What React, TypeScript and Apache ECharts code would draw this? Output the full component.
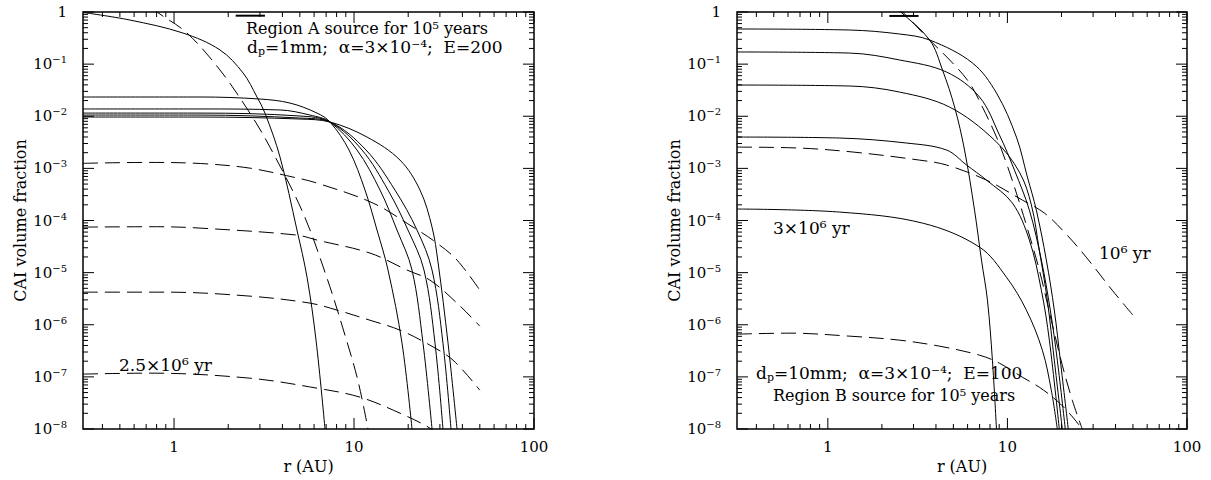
import React, { useEffect, useRef } from 'react';
import * as echarts from 'echarts';

const FONT = 'DejaVu Serif';
const X_MIN = 0.312;
const X_MAX = 100;
const Y_MIN = 1e-8;
const Y_MAX = 1;

// tick values
const X_MAJOR_TICKS = [1, 10, 100];
const X_MINOR_TICKS = [0.4, 0.5, 0.6, 0.7, 0.8, 0.9, 2, 3, 4, 5, 6, 7, 8, 9, 20, 30, 40, 50, 60, 70, 80, 90];
const Y_MAJOR_TICKS = [1e-8, 1e-7, 1e-6, 1e-5, 1e-4, 1e-3, 1e-2, 1e-1, 1];
const MINOR_MULTS = [2, 3, 4, 5, 6, 7, 8, 9];

// ---------- Left panel (dp = 1mm, E = 200) ----------
const L_SRC_R = [2.2, 3.2];
const L_SRC_V = [0.85, 0.85];
const L_S1_R = [0.312, 0.57, 1.12, 1.8, 2.42, 2.89, 3.2, 3.88, 4.82, 5.48, 6.15, 6.9];
const L_S1_V = [0.98, 0.7, 0.395, 0.187, 0.0675, 0.0234, 0.0115, 1.65e-3, 6.55e-5, 8.2e-6, 5.06e-7, 1e-8];
const L_D1_R = [0.75, 0.804, 1.18, 1.8, 2.64, 3.41, 5.21, 7.08, 8.91, 10.5, 11.96];
const L_D1_V = [1.25, 1, 0.395, 0.077, 0.0115, 2.56e-3, 1.39e-4, 7.8e-6, 6.3e-7, 8.6e-8, 1e-8];
const L_C1_R = [0.312, 1.394, 3.0, 4.41, 6.23, 7.36, 9.38, 11.51, 13.42, 15.45, 18.48, 21.0];
const L_C1_V = [0.0234, 0.0234, 0.0214, 0.0179, 0.0115, 0.00774, 2.25e-3, 3.83e-4, 6.55e-5, 1.12e-5, 4.43e-7, 1e-8];
const L_C2_R = [0.312, 1.394, 3.88, 5.69, 7.36, 10.39, 13.95, 17.33, 21.0, 24.17, 27.13];
const L_C2_V = [0.0138, 0.0138, 0.0132, 0.01054, 0.00774, 2.25e-3, 3.83e-4, 6.55e-5, 1.12e-5, 4.43e-7, 1e-8];
const L_C3_R = [0.312, 1.394, 5.01, 7.36, 11.08, 15.45, 19.95, 24.48, 28.18, 31.2];
const L_C3_V = [0.0115, 0.0115, 0.0101, 0.00774, 2.25e-3, 3.83e-4, 6.55e-5, 1.12e-5, 4.43e-7, 1e-8];
const L_C4_R = [0.312, 1.394, 5.01, 7.36, 11.66, 16.89, 22.39, 27.13, 31.2, 34.58];
const L_C4_V = [0.01054, 0.01054, 0.00923, 0.00774, 2.25e-3, 3.83e-4, 6.55e-5, 1.12e-5, 4.43e-7, 1e-8];
const L_C5_R = [0.312, 1.394, 5.01, 7.36, 11.81, 18.02, 23.26, 27.13, 29.29, 33.3, 37.35];
const L_C5_V = [0.00966, 0.00966, 0.00884, 0.00774, 0.00399, 0.00144, 3.83e-4, 7.47e-5, 1.59e-5, 4.43e-7, 1e-8];
const L_DA_R = [0.312, 0.7, 1.4, 2.64, 4.58, 6.23, 12.75, 21.27, 28.9, 37.35, 50];
const L_DA_V = [1.25e-3, 1.3e-3, 1.24e-3, 1.01e-3, 6.81e-4, 5.22e-4, 2.16e-4, 7.47e-5, 3.68e-5, 1.74e-5, 4.61e-6];
const L_DB_R = [0.312, 0.8, 1.394, 4.82, 6.23, 12.27, 19.7, 26.4, 37.35, 50];
const L_DB_V = [7.47e-5, 7.6e-5, 7.15e-5, 5.25e-5, 4.21e-5, 2.37e-5, 1.12e-5, 7.18e-6, 2.6e-6, 9.4e-7];
const L_DC_R = [0.312, 0.914, 2.64, 5.69, 8.05, 12.27, 18.02, 26.4, 35.5, 50];
const L_DC_V = [4.22e-6, 4.22e-6, 3.54e-6, 2.6e-6, 1.91e-6, 1.22e-6, 7.87e-7, 4.06e-7, 2.09e-7, 5.56e-8];
const L_DD_R = [0.312, 0.736, 2.64, 6.23, 10.8, 18.02, 26.4, 32.0];
const L_DD_V = [1.13e-7, 1.18e-7, 9.44e-8, 6.07e-8, 4.08e-8, 2.01e-8, 1.04e-8, 6.1e-9];

// ---------- Right panel (dp = 10mm, E = 100) ----------
const R_SRC_R = [2.2, 3.2];
const R_SRC_V = [0.84, 0.84];
const R_S1_R = [2.3, 2.51, 3.69, 4.35, 5.08, 5.77, 6.56, 7.17, 7.74, 8.25, 8.69];
const R_S1_V = [1.3, 1.045, 0.29, 0.0771, 0.015, 2.25e-3, 1.58e-4, 1.74e-5, 2.96e-6, 2.09e-7, 1e-8];
const R_D1_R = [2.4, 2.61, 3.55, 4.95, 6.15, 7.26, 8.69, 9.87, 11.22, 12.75, 15.05, 17.55, 20.21, 22.97, 26.1];
const R_D1_V = [1.25, 1, 0.331, 0.105, 0.0434, 0.015, 3.99e-3, 1.26e-3, 3.36e-4, 8.16e-5, 1.12e-5, 1.22e-6, 1.68e-7, 3.57e-8, 1e-8];
const R_P1_R = [0.312, 1.325, 2.51, 3.69, 6.39, 8.69, 11.22, 12.92, 14.49, 16.47, 18.24, 19.7, 21.82];
const R_P1_V = [0.472, 0.451, 0.378, 0.29, 0.105, 0.0279, 3.99e-3, 6.81e-4, 1.58e-4, 1.74e-5, 1.91e-6, 2.09e-7, 1e-8];
const R_P2_R = [0.312, 1.325, 2.51, 4.58, 6.99, 9.03, 10.94, 13.25, 15.45, 17.33, 18.96, 21.0];
const R_P2_V = [0.171, 0.163, 0.12, 0.0705, 0.0234, 4.36e-3, 9.27e-4, 1.58e-4, 1.74e-5, 1.91e-6, 2.09e-7, 1e-8];
const R_P3_R = [0.312, 1.325, 2.51, 4.76, 8.47, 11.66, 13.6, 15.05, 16.68, 18.24, 20.21];
const R_P3_V = [0.0397, 0.038, 0.0291, 0.015, 3.49e-3, 8.49e-4, 1.98e-4, 2.7e-5, 2.96e-6, 2.09e-7, 1e-8];
const R_P4_R = [0.312, 1.166, 2.75, 4.58, 5.92, 7.64, 10.66, 13.25, 15.45, 17.12, 19.45];
const R_P4_V = [3.99e-3, 3.82e-3, 3.06e-3, 2.25e-3, 1.16e-3, 5.96e-4, 2.16e-4, 4.21e-5, 4.61e-6, 5.06e-7, 1e-8];
const R_P5_R = [0.312, 1.166, 3.37, 6.99, 9.87, 12.75, 15.65, 17.55, 18.96];
const R_P5_V = [1.66e-4, 1.45e-4, 8.91e-5, 3.09e-5, 8.2e-6, 1.91e-6, 3.25e-7, 5.56e-8, 1e-8];
const R_DM_R = [0.312, 0.699, 1.377, 3.24, 4.58, 7.64, 12.12, 16.06, 20.74, 27.47, 38.3, 50];
const R_DM_V = [2.56e-3, 2.45e-3, 2.06e-3, 1.44e-3, 1.16e-3, 5.96e-4, 2.46e-4, 1.39e-4, 5.99e-5, 1.98e-5, 4.61e-6, 1.53e-6];
const R_DL_R = [0.312, 0.615, 1.325, 2.51, 4.19, 6.99, 9.03, 12.12, 15.05, 18.72, 22.11, 26.1];
const R_DL_V = [6.6e-7, 6.9e-7, 6.04e-7, 5.06e-7, 3.88e-7, 2.61e-7, 1.83e-7, 9.86e-8, 6.34e-8, 3.57e-8, 2.01e-8, 1e-8];

function lineSeries(gi: number, r: number[], v: number[], dashed: boolean, width = 1) {
  return {
    type: 'line',
    xAxisIndex: gi,
    yAxisIndex: gi,
    data: r.map((x, i) => [x, v[i]]),
    showSymbol: false,
    symbol: 'none',
    smooth: 0.35,
    clip: true,
    silent: true,
    lineStyle: { color: '#000', width, type: dashed ? [15, 7] : 'solid' },
  };
}

const tickStyle = { stroke: '#000', lineWidth: 1 };

function xTickSeries(gi: number) {
  const data = [...X_MAJOR_TICKS.map((v) => [v, 1]), ...X_MINOR_TICKS.map((v) => [v, 0.5])];
  return {
    type: 'custom',
    xAxisIndex: gi,
    yAxisIndex: gi,
    silent: true,
    data,
    renderItem: (_p: any, api: any) => {
      const v = api.value(0);
      const len = api.value(1) > 0.9 ? 11 : 5;
      const b = api.coord([v, Y_MIN]);
      const t = api.coord([v, Y_MAX]);
      return {
        type: 'group',
        children: [
          { type: 'line', shape: { x1: b[0], y1: b[1], x2: b[0], y2: b[1] - len }, style: tickStyle },
          { type: 'line', shape: { x1: t[0], y1: t[1], x2: t[0], y2: t[1] + len }, style: tickStyle },
        ],
      };
    },
  };
}

function yTickSeries(gi: number) {
  const minor: number[] = [];
  Y_MAJOR_TICKS.slice(0, -1).forEach((d) => MINOR_MULTS.forEach((m) => minor.push(d * m)));
  const data = [...Y_MAJOR_TICKS.map((v) => [1, v]), ...minor.map((v) => [0.5, v])];
  return {
    type: 'custom',
    xAxisIndex: gi,
    yAxisIndex: gi,
    silent: true,
    data,
    renderItem: (_p: any, api: any) => {
      const v = api.value(1);
      const len = api.value(0) > 0.9 ? 11 : 5;
      const l = api.coord([X_MIN, v]);
      const r = api.coord([X_MAX, v]);
      return {
        type: 'group',
        children: [
          { type: 'line', shape: { x1: l[0], y1: l[1], x2: l[0] + len, y2: l[1] }, style: tickStyle },
          { type: 'line', shape: { x1: r[0], y1: r[1], x2: r[0] - len, y2: r[1] }, style: tickStyle },
        ],
      };
    },
  };
}

const isDecade = (v: number) => {
  const l = Math.log10(v);
  return Math.abs(l - Math.round(l)) < 1e-6;
};

function xAxis(gi: number) {
  return {
    gridIndex: gi,
    type: 'log',
    logBase: 10,
    min: X_MIN,
    max: X_MAX,
    axisLine: { show: false },
    axisTick: { show: false },
    splitLine: { show: false },
    axisLabel: {
      margin: 10,
      color: '#000',
      fontFamily: FONT,
      fontSize: 15,
      formatter: (v: number) => (isDecade(v) ? String(Math.round(v)) : ''),
    },
    name: 'r (AU)',
    nameLocation: 'middle',
    nameGap: 27,
    nameTextStyle: { color: '#000', fontFamily: FONT, fontSize: 16 },
  };
}

function yAxis(gi: number) {
  return {
    gridIndex: gi,
    type: 'log',
    logBase: 10,
    min: Y_MIN,
    max: Y_MAX,
    axisLine: { show: false },
    axisTick: { show: false },
    splitLine: { show: false },
    axisLabel: {
      margin: 16,
      color: '#000',
      fontFamily: FONT,
      fontSize: 15,
      formatter: (v: number) => {
        if (!isDecade(v)) return '';
        const e = Math.round(Math.log10(v));
        return e === 0 ? '1' : `10{sup|−${Math.abs(e)}}`;
      },
      rich: {
        sup: { fontFamily: FONT, fontSize: 10, padding: [0, 0, 9, 0], color: '#000' },
      },
    },
    name: 'CAI volume fraction',
    nameLocation: 'middle',
    nameGap: 55,
    nameTextStyle: { color: '#000', fontFamily: FONT, fontSize: 16 },
  };
}

function label(x: number, y: number, text: string, fontSize: number) {
  return {
    type: 'text',
    x,
    y,
    silent: true,
    style: {
      text,
      fill: '#000',
      fontFamily: FONT,
      fontSize,
      verticalAlign: 'middle',
      rich: {
        sub: { fontFamily: FONT, fontSize: Math.round(fontSize * 0.65), padding: [9, 0, 0, 0] },
      },
    },
  };
}

export default function App() {
  const ref = useRef<HTMLDivElement>(null);
  useEffect(() => {
    if (!ref.current) return;
    const chart = echarts.init(ref.current, undefined, { renderer: 'svg' });
    const gridBase = { show: true, borderColor: '#000', borderWidth: 1.5, backgroundColor: 'transparent', top: 12, height: 417 };
    chart.setOption({
      animation: false,
      backgroundColor: '#fff',
      grid: [
        { ...gridBase, left: 83, width: 451 },
        { ...gridBase, left: 737, width: 450 },
      ],
      xAxis: [xAxis(0), xAxis(1)],
      yAxis: [yAxis(0), yAxis(1)],
      series: [
        lineSeries(0, L_SRC_R, L_SRC_V, false, 2),
        lineSeries(0, L_S1_R, L_S1_V, false),
        lineSeries(0, L_D1_R, L_D1_V, true),
        lineSeries(0, L_C1_R, L_C1_V, false),
        lineSeries(0, L_C2_R, L_C2_V, false),
        lineSeries(0, L_C3_R, L_C3_V, false),
        lineSeries(0, L_C4_R, L_C4_V, false),
        lineSeries(0, L_C5_R, L_C5_V, false),
        lineSeries(0, L_DA_R, L_DA_V, true),
        lineSeries(0, L_DB_R, L_DB_V, true),
        lineSeries(0, L_DC_R, L_DC_V, true),
        lineSeries(0, L_DD_R, L_DD_V, true),
        lineSeries(1, R_SRC_R, R_SRC_V, false, 2),
        lineSeries(1, R_S1_R, R_S1_V, false),
        lineSeries(1, R_D1_R, R_D1_V, true),
        lineSeries(1, R_P1_R, R_P1_V, false),
        lineSeries(1, R_P2_R, R_P2_V, false),
        lineSeries(1, R_P3_R, R_P3_V, false),
        lineSeries(1, R_P4_R, R_P4_V, false),
        lineSeries(1, R_P5_R, R_P5_V, false),
        lineSeries(1, R_DM_R, R_DM_V, true),
        lineSeries(1, R_DL_R, R_DL_V, true),
        xTickSeries(0),
        yTickSeries(0),
        xTickSeries(1),
        yTickSeries(1),
      ],
      graphic: [
        label(246, 28, 'Region A source for 10⁵ years', 16),
        label(247, 47, 'd{sub|p}=1mm;  α=3×10⁻⁴;  E=200', 17),
        label(119, 365, '2.5×10⁶ yr', 17),
        label(773, 228, '3×10⁶ yr', 17),
        label(1099, 253, '10⁶ yr', 17),
        label(756, 373, 'd{sub|p}=10mm;  α=3×10⁻⁴;  E=100', 17),
        label(773, 395, 'Region B source for 10⁵ years', 16),
      ],
    });
    return () => chart.dispose();
  }, []);
  return <div ref={ref} style={{ position: 'absolute', left: 0, top: 0, width: 1211, height: 480 }} />;
}
